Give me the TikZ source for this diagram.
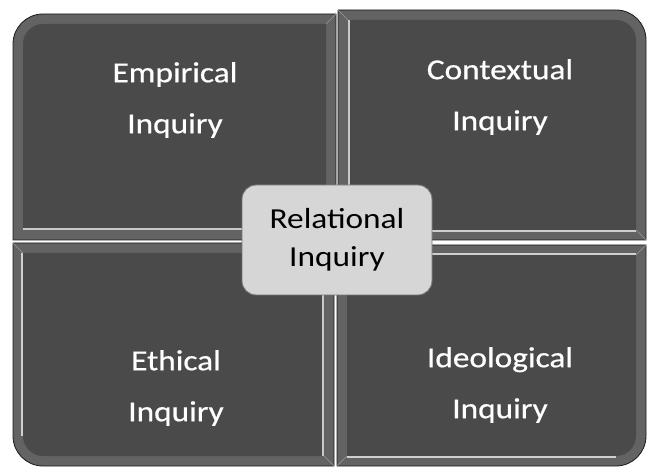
\documentclass[tikz,border=0pt]{standalone}
\usepackage{fontspec}
\newfontfamily\quadfont[FakeStretch=1.15, FakeBold=0.6]{Carlito}
\newfontfamily\hubfont[FakeStretch=1.15]{Carlito}
\begin{document}
\begin{tikzpicture}[x=1pt, y=-1pt,
  band/.style={fill=black!61, draw=black!90, line width=0.8pt},
  face/.style={fill=black!71},
  glint/.style={draw=white, line width=1.8pt, opacity=0.7},
  miter/.style={draw=black!40, line width=0.6pt},
  quadlabel/.style={text=white, align=center, inner sep=0pt,
    font=\quadfont\fontsize{29}{51}\selectfont},
  hub/.style={draw=black!55, line width=0.9pt, fill=black!16,
    rounded corners=14pt, minimum width=190pt, minimum height=110pt,
    align=center, inner sep=0pt, text=black,
    font=\hubfont\fontsize{29}{38}\selectfont}
]
\useasboundingbox (0,0) rectangle (649,468);

% top left quadrant: rounded outer corner at top left
\path[band] (13,240) -- (13,44) .. controls (13,27.4) and (26.4,14) .. (43,14)
  -- (336,14) -- (336,240) -- cycle;
\path[face] (23,230) -- (23,44) .. controls (23,33) and (32,24) .. (43,24)
  -- (326,24) -- (326,230) -- cycle;
\draw[miter] (336,14) -- (326,24) (336,240) -- (326,230);
\draw[glint] (23,229) -- (326,229);

% top right quadrant: rounded outer corner at top right
\path[band] (338,10) -- (616,10) .. controls (632.6,10) and (646,23.4) .. (646,40)
  -- (646,240) -- (338,240) -- cycle;
\path[face] (348,20) -- (616,20) .. controls (627,20) and (636,29) .. (636,40)
  -- (636,230) -- (348,230) -- cycle;
\draw[miter] (338,10) -- (348,20) (646,240) -- (636,230);
\draw[glint] (349,20) -- (349,231) -- (636,231);

% bottom left quadrant: rounded outer corner at bottom left
\path[band] (13,243) -- (334,243) -- (334,466) -- (43,466)
  .. controls (26.4,466) and (13,452.6) .. (13,436) -- cycle;
\path[face] (23,253) -- (324,253) -- (324,456) -- (43,456)
  .. controls (32,456) and (23,447) .. (23,436) -- cycle;
\draw[miter] (13,243) -- (23,253) (334,243) -- (324,253) (334,466) -- (324,456);
\draw[glint] (22,253) -- (22,436) (323,253) -- (323,456);

% bottom right quadrant: rounded outer corner at bottom right
\path[band] (337,245) -- (646,245) -- (646,436)
  .. controls (646,452.6) and (632.6,466) .. (616,466) -- (337,466) -- cycle;
\path[face] (347,255) -- (636,255) -- (636,436)
  .. controls (636,447) and (627,456) .. (616,456) -- (347,456) -- cycle;
\draw[miter] (337,245) -- (347,255) (646,245) -- (636,255) (337,466) -- (347,456);
\draw[glint] (347,254) -- (636,254) (347,457) -- (616,457);

% quadrant labels
\node[quadlabel] (empirical)   at (175,100) {Empirical\\Inquiry};
\node[quadlabel] (contextual)  at (500,97)  {Contextual\\Inquiry};
\node[quadlabel] (ethical)     at (176,388) {Ethical\\Inquiry};
\node[quadlabel] (ideological) at (500,385) {Ideological\\Inquiry};

% central hub
\node[hub] (relational) at (337,240) {Relational\\Inquiry};
\end{tikzpicture}
\end{document}
